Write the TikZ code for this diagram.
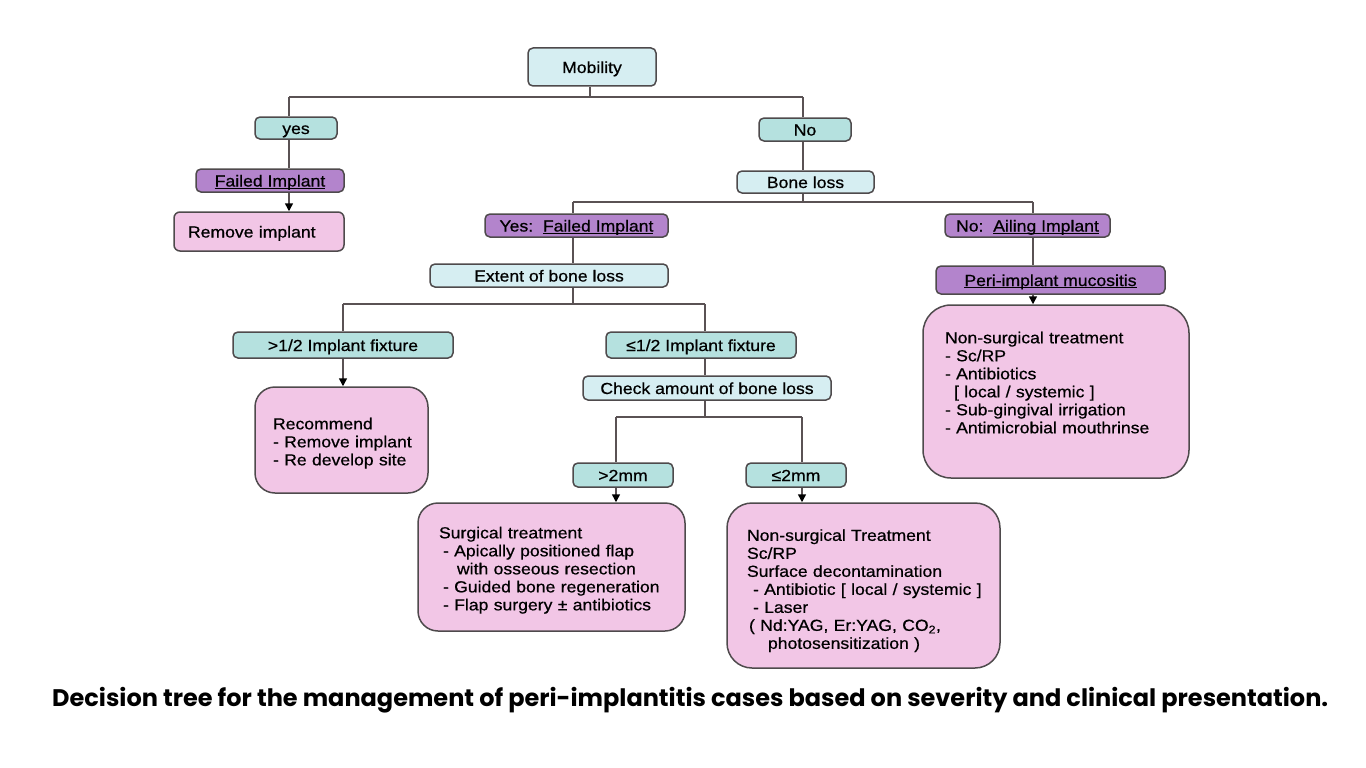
\documentclass[tikz,border=0pt]{standalone}
\usepackage{fontspec}
\setmainfont{Liberation Sans}[FakeStretch=1.1, FakeBold=0.6]
\newfontfamily\capfont{Poppins}
\usetikzlibrary{calc,arrows.meta}
\hyphenpenalty=10000
\exhyphenpenalty=10000
\newcommand{\undl}[1]{\underline{\smash{#1}}}

\definecolor{qblue}{HTML}{D6EEF2}
\definecolor{ateal}{HTML}{B5E1DF}
\definecolor{vpurple}{HTML}{B384CC}
\definecolor{tpink}{HTML}{F2C6E6}
\definecolor{edge}{HTML}{4E4A4C}
\definecolor{wire}{HTML}{5A5254}

\begin{document}
\begin{tikzpicture}[x=1pt, y=-1pt, >={Triangle[length=8pt,width=8pt,color=black]},
    every node/.style={font=\fontsize{16}{18}\selectfont},
    box/.style={draw=edge, line width=1.5pt, rounded corners=5pt, inner sep=0pt,
                text height=13pt, text depth=1pt},
    question/.style={box, fill=qblue},
    answer/.style={box, fill=ateal},
    verdict/.style={box, fill=vpurple},
    treat/.style={draw=edge, line width=1.5pt, rounded corners=20pt, fill=tpink,
                  align=left, inner ysep=0pt},
    link/.style={draw=wire, line width=1.5pt}]

    \useasboundingbox (0,0) rectangle (1366,768);

    % First question
    \node[question, minimum width=128, minimum height=38] (mobility) at (592,67) {Mobility};

    % Mobile implant
    \node[answer, minimum width=82, minimum height=22] (yes) at (296,128) {yes};
    \node[verdict, minimum width=148, minimum height=23] (failed) at (270,180.5) {\undl{Failed Implant}};
    \node[treat, rounded corners=6pt, text width=142, inner xsep=14, minimum height=39,
          text height=13pt, text depth=1pt] (remove) at (259,231.5) {Remove implant};

    % Stable implant
    \node[answer, minimum width=92, minimum height=23] (no) at (805,129.5) {No};
    \node[question, minimum width=137, minimum height=22] (boneloss) at (805.5,182) {Bone loss};
    \node[verdict, minimum width=183, minimum height=23] (yesfailed) at (576.5,225.5) {Yes:\ \ \undl{Failed Implant}};
    \node[verdict, minimum width=165, minimum height=23] (noailing) at (1027.5,225.5) {No:\ \ \undl{Ailing Implant}};
    \node[question, minimum width=238, minimum height=23] (extent) at (549,275.5) {Extent of bone loss};
    \node[verdict, minimum width=229, minimum height=28] (mucositis) at (1050.5,280) {\undl{Peri-implant mucositis}};

    % Ailing implant treatment
    \node[treat, rounded corners=28pt, text width=222, inner xsep=22, minimum height=173] (nonsurgA) at (1056,391.5)
        {Non-surgical treatment\\
         - Sc/RP\\
         - Antibiotics\\
         \hspace*{9pt}[ local / systemic ]\\
         - Sub-gingival irrigation\\
         \mbox{- Antimicrobial mouthrinse}\\
         \mbox{}};

    % Extent of bone loss
    \node[answer, minimum width=220, minimum height=26] (gthalf) at (343,345) {>1/2 Implant fixture};
    \node[answer, minimum width=190, minimum height=26] (lehalf) at (701,345) {≤1/2 Implant fixture};
    \node[question, minimum width=248, minimum height=24] (check) at (707,388) {Check amount of bone loss};
    \node[treat, text width=137, inner xsep=18, minimum height=106] (recommend) at (341.5,440)
        {\rule{0pt}{18pt}Recommend\\
         \mbox{- Remove implant}\\
         - Re develop site};

    % Amount of bone loss
    \node[answer, minimum width=100, minimum height=24] (gttwo) at (623,475) {>2mm};
    \node[answer, minimum width=100, minimum height=24] (letwo) at (796,475) {≤2mm};
    \node[treat, text width=225, inner xsep=21, minimum height=128] (surgical) at (551.5,567)
        {\rule{0pt}{18pt}Surgical treatment\\
         \hspace*{4pt}\mbox{- Apically positioned flap}\\
         \hspace*{18pt}\mbox{with osseous resection}\\
         \hspace*{4pt}\mbox{- Guided bone regeneration}\\
         \hspace*{4pt}\mbox{- Flap surgery ± antibiotics}};
    \node[treat, rounded corners=25pt, text width=233, inner xsep=20, minimum height=165] (nonsurgB) at (863.5,585.5)
        {\rule{0pt}{22pt}Non-surgical Treatment\\
         Sc/RP\\
         Surface decontamination\\
         \hspace*{6pt}\mbox{- Antibiotic [ local / systemic ]}\\
         \hspace*{6pt}- Laser\\
         \hspace*{2pt}\mbox{( Nd:YAG, Er:YAG, CO\textsubscript{2},}\\
         \hspace*{21pt}\mbox{photosensitization )}};

    % Branch points
    \coordinate (split) at (590,97);
    \coordinate (yesbr) at (289,97);
    \coordinate (nobr) at (803,97);
    \coordinate (lossl) at (573,202);
    \coordinate (lossr) at (1033,202);
    \coordinate (extl) at (343,304);
    \coordinate (extr) at (705,304);
    \coordinate (chkl) at (616,417);
    \coordinate (chkr) at (802,417);

    % Mobility
    \draw[link] (mobility.south -| split) -- (split);
    \draw[link] (yesbr) -- (nobr);
    \draw[link] (yesbr) -- (yesbr |- yes.north);
    \draw[link] (yesbr |- yes.south) -- (yesbr |- failed.north);
    \draw[link,->] (yesbr |- failed.south) -- (yesbr |- remove.north);
    \draw[link] (nobr) -- (nobr |- no.north);
    \draw[link] (nobr |- no.south) -- (nobr |- boneloss.north);

    % Bone loss
    \draw[link] (nobr |- boneloss.south) -- (nobr |- lossl);
    \draw[link] (lossl) -- (lossr);
    \draw[link] (lossl) -- (lossl |- yesfailed.north);
    \draw[link] (lossl |- yesfailed.south) -- (lossl |- extent.north);
    \draw[link] (lossr) -- (lossr |- noailing.north);
    \draw[link] (lossr |- noailing.south) -- (lossr |- mucositis.north);
    \draw[link,->] (lossr |- mucositis.south) -- (lossr |- nonsurgA.north);

    % Extent
    \draw[link] (lossl |- extent.south) -- (lossl |- extl);
    \draw[link] (extl) -- (extr);
    \draw[link] (extl) -- (extl |- gthalf.north);
    \draw[link,->] (extl |- gthalf.south) -- (extl |- recommend.north);
    \draw[link] (extr) -- (extr |- lehalf.north);
    \draw[link] (extr |- lehalf.south) -- (extr |- check.north);

    % Amount
    \draw[link] (extr |- check.south) -- (extr |- chkl);
    \draw[link] (chkl) -- (chkr);
    \draw[link] (chkl) -- (chkl |- gttwo.north);
    \draw[link,->] (chkl |- gttwo.south) -- (chkl |- surgical.north);
    \draw[link] (chkr) -- (chkr |- letwo.north);
    \draw[link,->] (chkr |- letwo.south) -- (chkr |- nonsurgB.north);

    % Caption
    \node[font=\capfont\bfseries\fontsize{24}{28}\selectfont, anchor=base west, inner sep=0pt] (caption) at (52,706)
        {Decision tree for the management of peri-implantitis cases based on severity and clinical presentation.};

\end{tikzpicture}
\end{document}
